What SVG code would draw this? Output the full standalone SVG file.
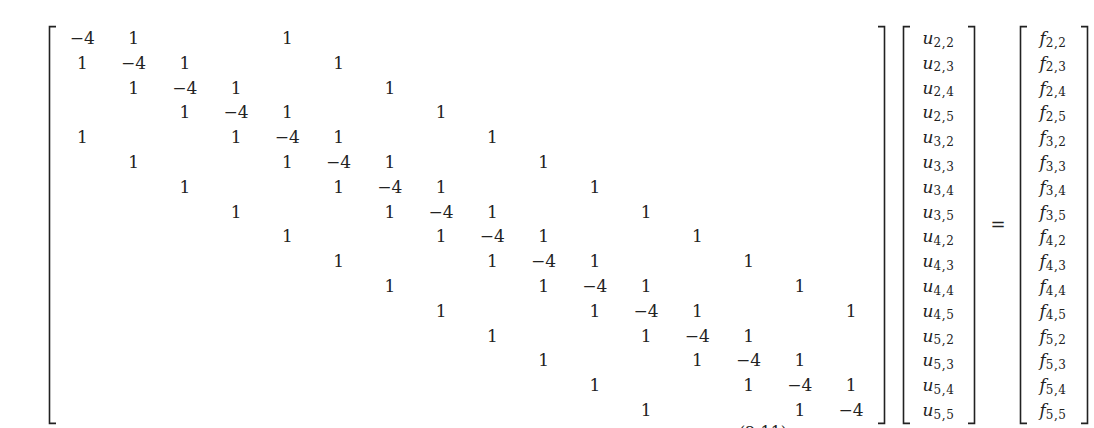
<svg xmlns="http://www.w3.org/2000/svg" width="1094" height="428" viewBox="0 0 1094 428">
<style>
.n{font-family:"DejaVu Serif","Liberation Serif",serif;font-size:17px;text-anchor:middle;fill:#222}
.v{font-family:"DejaVu Serif","Liberation Serif",serif;font-size:17px;text-anchor:middle;fill:#222}
.v .i{font-style:italic}
.v .s{font-size:12px;letter-spacing:0.6px}
.br{fill:none;stroke:#222;stroke-width:1.6}
</style>
<rect width="1094" height="428" fill="#fff"/>
<g id="matrixA">
<path class="br" d="M56,26.6 H49.5 V423.4 H56"/>
<path class="br" d="M878,26.6 H884.5 V423.4 H878"/>
<g class="n">
<text x="82.3" y="44">−4</text><text x="133.55" y="44">1</text><text x="287.3" y="44">1</text>
<text x="82.3" y="68.8">1</text><text x="133.55" y="68.8">−4</text><text x="184.8" y="68.8">1</text><text x="338.55" y="68.8">1</text>
<text x="133.55" y="93.6">1</text><text x="184.8" y="93.6">−4</text><text x="236.05" y="93.6">1</text><text x="389.8" y="93.6">1</text>
<text x="184.8" y="118.4">1</text><text x="236.05" y="118.4">−4</text><text x="287.3" y="118.4">1</text><text x="441.05" y="118.4">1</text>
<text x="82.3" y="143.2">1</text><text x="236.05" y="143.2">1</text><text x="287.3" y="143.2">−4</text><text x="338.55" y="143.2">1</text><text x="492.3" y="143.2">1</text>
<text x="133.55" y="168">1</text><text x="287.3" y="168">1</text><text x="338.55" y="168">−4</text><text x="389.8" y="168">1</text><text x="543.55" y="168">1</text>
<text x="184.8" y="192.8">1</text><text x="338.55" y="192.8">1</text><text x="389.8" y="192.8">−4</text><text x="441.05" y="192.8">1</text><text x="594.8" y="192.8">1</text>
<text x="236.05" y="217.6">1</text><text x="389.8" y="217.6">1</text><text x="441.05" y="217.6">−4</text><text x="492.3" y="217.6">1</text><text x="646.05" y="217.6">1</text>
<text x="287.3" y="242.4">1</text><text x="441.05" y="242.4">1</text><text x="492.3" y="242.4">−4</text><text x="543.55" y="242.4">1</text><text x="697.3" y="242.4">1</text>
<text x="338.55" y="267.2">1</text><text x="492.3" y="267.2">1</text><text x="543.55" y="267.2">−4</text><text x="594.8" y="267.2">1</text><text x="748.55" y="267.2">1</text>
<text x="389.8" y="292">1</text><text x="543.55" y="292">1</text><text x="594.8" y="292">−4</text><text x="646.05" y="292">1</text><text x="799.8" y="292">1</text>
<text x="441.05" y="316.8">1</text><text x="594.8" y="316.8">1</text><text x="646.05" y="316.8">−4</text><text x="697.3" y="316.8">1</text><text x="851.05" y="316.8">1</text>
<text x="492.3" y="341.6">1</text><text x="646.05" y="341.6">1</text><text x="697.3" y="341.6">−4</text><text x="748.55" y="341.6">1</text>
<text x="543.55" y="366.4">1</text><text x="697.3" y="366.4">1</text><text x="748.55" y="366.4">−4</text><text x="799.8" y="366.4">1</text>
<text x="594.8" y="391.2">1</text><text x="748.55" y="391.2">1</text><text x="799.8" y="391.2">−4</text><text x="851.05" y="391.2">1</text>
<text x="646.05" y="416">1</text><text x="799.8" y="416">1</text><text x="851.05" y="416">−4</text>
</g>
</g>
<g id="vectorU">
<path class="br" d="M910,26.6 H903.5 V423.4 H910"/>
<path class="br" d="M968,26.6 H974.5 V423.4 H968"/>
<g class="v">
<text x="938.5" y="44"><tspan class="i">u</tspan><tspan class="s" dy="2.5">2,2</tspan></text>
<text x="938.5" y="68.8"><tspan class="i">u</tspan><tspan class="s" dy="2.5">2,3</tspan></text>
<text x="938.5" y="93.6"><tspan class="i">u</tspan><tspan class="s" dy="2.5">2,4</tspan></text>
<text x="938.5" y="118.4"><tspan class="i">u</tspan><tspan class="s" dy="2.5">2,5</tspan></text>
<text x="938.5" y="143.2"><tspan class="i">u</tspan><tspan class="s" dy="2.5">3,2</tspan></text>
<text x="938.5" y="168"><tspan class="i">u</tspan><tspan class="s" dy="2.5">3,3</tspan></text>
<text x="938.5" y="192.8"><tspan class="i">u</tspan><tspan class="s" dy="2.5">3,4</tspan></text>
<text x="938.5" y="217.6"><tspan class="i">u</tspan><tspan class="s" dy="2.5">3,5</tspan></text>
<text x="938.5" y="242.4"><tspan class="i">u</tspan><tspan class="s" dy="2.5">4,2</tspan></text>
<text x="938.5" y="267.2"><tspan class="i">u</tspan><tspan class="s" dy="2.5">4,3</tspan></text>
<text x="938.5" y="292"><tspan class="i">u</tspan><tspan class="s" dy="2.5">4,4</tspan></text>
<text x="938.5" y="316.8"><tspan class="i">u</tspan><tspan class="s" dy="2.5">4,5</tspan></text>
<text x="938.5" y="341.6"><tspan class="i">u</tspan><tspan class="s" dy="2.5">5,2</tspan></text>
<text x="938.5" y="366.4"><tspan class="i">u</tspan><tspan class="s" dy="2.5">5,3</tspan></text>
<text x="938.5" y="391.2"><tspan class="i">u</tspan><tspan class="s" dy="2.5">5,4</tspan></text>
<text x="938.5" y="416"><tspan class="i">u</tspan><tspan class="s" dy="2.5">5,5</tspan></text>
</g>
</g>
<g id="equals">
<text class="n" x="998" y="230.5" style="font-size:18px">=</text>
</g>
<g id="vectorF">
<path class="br" d="M1027,26.6 H1020.5 V423.4 H1027"/>
<path class="br" d="M1081,26.6 H1087.5 V423.4 H1081"/>
<g class="v">
<text x="1053" y="44"><tspan class="i">f</tspan><tspan class="s" dy="2.5">2,2</tspan></text>
<text x="1053" y="68.8"><tspan class="i">f</tspan><tspan class="s" dy="2.5">2,3</tspan></text>
<text x="1053" y="93.6"><tspan class="i">f</tspan><tspan class="s" dy="2.5">2,4</tspan></text>
<text x="1053" y="118.4"><tspan class="i">f</tspan><tspan class="s" dy="2.5">2,5</tspan></text>
<text x="1053" y="143.2"><tspan class="i">f</tspan><tspan class="s" dy="2.5">3,2</tspan></text>
<text x="1053" y="168"><tspan class="i">f</tspan><tspan class="s" dy="2.5">3,3</tspan></text>
<text x="1053" y="192.8"><tspan class="i">f</tspan><tspan class="s" dy="2.5">3,4</tspan></text>
<text x="1053" y="217.6"><tspan class="i">f</tspan><tspan class="s" dy="2.5">3,5</tspan></text>
<text x="1053" y="242.4"><tspan class="i">f</tspan><tspan class="s" dy="2.5">4,2</tspan></text>
<text x="1053" y="267.2"><tspan class="i">f</tspan><tspan class="s" dy="2.5">4,3</tspan></text>
<text x="1053" y="292"><tspan class="i">f</tspan><tspan class="s" dy="2.5">4,4</tspan></text>
<text x="1053" y="316.8"><tspan class="i">f</tspan><tspan class="s" dy="2.5">4,5</tspan></text>
<text x="1053" y="341.6"><tspan class="i">f</tspan><tspan class="s" dy="2.5">5,2</tspan></text>
<text x="1053" y="366.4"><tspan class="i">f</tspan><tspan class="s" dy="2.5">5,3</tspan></text>
<text x="1053" y="391.2"><tspan class="i">f</tspan><tspan class="s" dy="2.5">5,4</tspan></text>
<text x="1053" y="416"><tspan class="i">f</tspan><tspan class="s" dy="2.5">5,5</tspan></text>
</g>
</g>
<text id="eqnum" class="n" x="763" y="438" style="font-size:16px">(2.11)</text>
</svg>
